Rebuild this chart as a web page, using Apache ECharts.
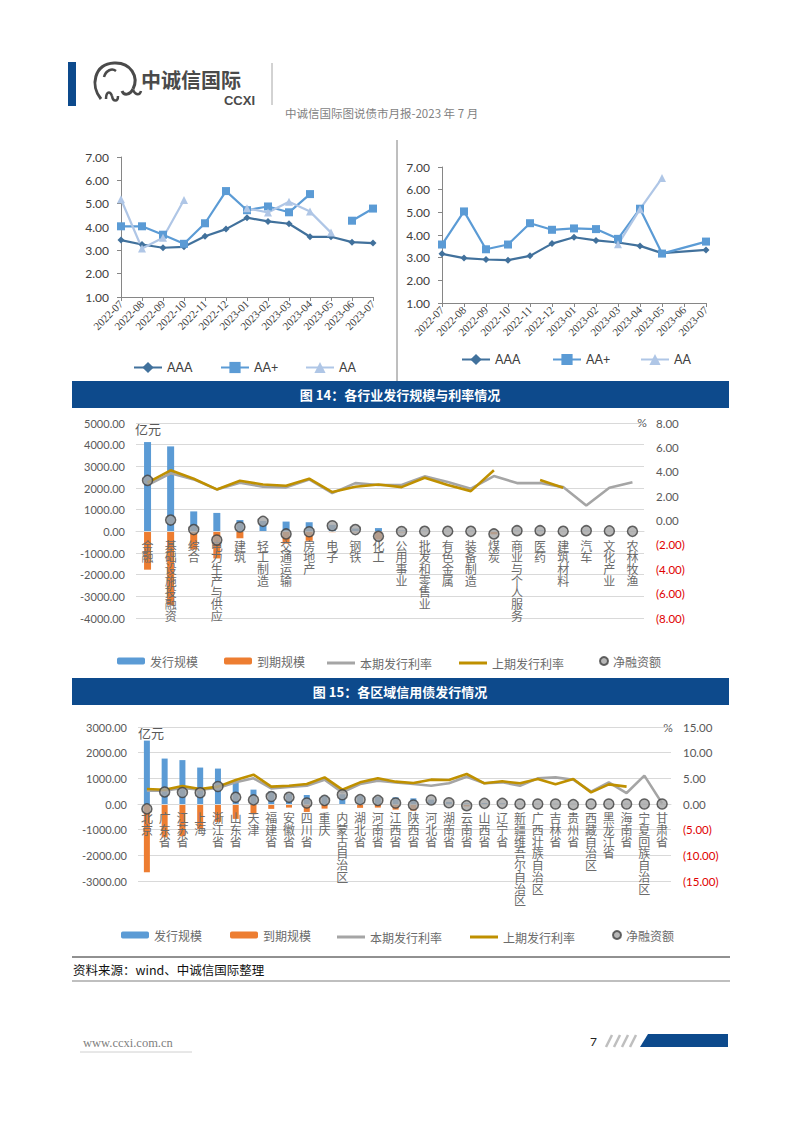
<!DOCTYPE html>
<html><head><meta charset="utf-8">
<script src="https://cdn.jsdelivr.net/npm/echarts@6/dist/echarts.min.js"></script>
<style>html,body{margin:0;padding:0;background:#fff}#c{width:802px;height:1133px}</style>
</head><body><div id="c"></div>
<script>
// ---------- data ----------
const months = ['2022-07','2022-08','2022-09','2022-10','2022-11','2022-12','2023-01','2023-02','2023-03','2023-04','2023-05','2023-06','2023-07'];
const leftAAA  = [3.44,3.25,3.11,3.15,3.60,3.91,4.40,4.24,4.14,3.58,3.58,3.35,3.31];
const leftAAp  = [4.03,4.03,3.67,3.28,4.16,5.54,4.72,4.88,4.63,5.41,null,4.27,4.79];
const leftAA   = [5.19,3.08,3.54,5.16,null,null,4.80,4.62,5.08,4.66,3.76,null,null];
const rightAAA = [3.17,2.98,2.92,2.89,3.08,3.62,3.90,3.76,3.67,3.52,3.20,null,3.34];
const rightAAp = [3.58,5.04,3.37,3.58,4.52,4.23,4.29,4.26,3.83,5.16,3.18,null,3.71];
const rightAA  = [null,null,null,null,null,null,null,null,3.59,5.14,6.51,null,null];

const industries = ['金融','基础设施投融资','综合','电力生产与供应','建筑','轻工制造','交通运输','房地产','电子','钢铁','化工','公用事业','批发和零售业','有色金属','装备制造','煤炭','商业与个人服务','医药','建筑材料','汽车','文化产业','农林牧渔'];
const indIssue   = [4120,3920,920,850,520,480,450,420,300,130,150,40,30,20,30,20,30,40,20,30,20,10];
const indMature  = [-1770,-3400,-840,-1250,-320,-20,-570,-440,-40,-50,-380,-50,-30,-20,-30,-140,0,-10,-20,0,0,-10];
const indRateCur = [2.91,3.87,3.37,2.55,3.10,2.77,2.72,3.37,2.25,3.07,2.91,2.91,3.62,3.16,2.61,3.65,3.07,3.07,2.74,1.23,2.69,3.13];
const indRatePrev= [3.10,4.12,3.43,2.55,3.26,2.96,2.85,3.43,2.33,2.77,2.96,2.74,3.51,2.91,2.41,4.12,null,3.32,2.69,null,null,null];
const indNet     = [2350,520,80,-400,200,460,-120,-20,260,80,-230,-10,0,0,0,-120,30,30,0,30,20,0];

const regions = ['北京','广东省','江苏省','上海','浙江省','山东省','天津','福建省','安徽省','四川省','重庆','内蒙古自治区','湖北省','河南省','江西省','陕西省','河北省','湖南省','云南省','山西省','辽宁省','新疆维吾尔自治区','广西壮族自治区','吉林省','贵州省','西藏自治区','黑龙江省','海南省','宁夏回族自治区','甘肃省'];
const regIssue   = [2470,1770,1710,1420,1380,840,560,480,400,350,320,380,320,280,260,220,170,80,30,40,30,10,10,10,10,5,10,10,5,5];
const regMature  = [-2660,-1300,-1260,-980,-700,-580,-400,-190,-140,-310,-180,-20,-150,-140,-220,-260,-15,-30,-95,-15,-5,-10,-10,-10,-35,-5,-10,-10,-5,-5];
const regRateCur = [2.60,2.60,3.12,2.79,3.12,4.22,5.00,3.05,3.31,3.57,4.74,2.27,3.90,4.55,4.22,3.90,3.57,4.03,5.32,4.03,4.22,3.57,5.00,5.19,4.74,2.40,4.22,2.14,5.52,0.13];
const regRatePrev= [2.92,2.79,3.50,2.92,3.38,4.68,5.71,3.38,3.57,3.90,5.19,2.79,4.22,5.00,4.35,4.09,4.74,4.68,5.84,4.03,4.42,4.03,4.87,3.83,4.87,2.27,3.83,3.38,null,null];
const regNet     = [-190,470,450,440,680,260,160,290,260,40,140,360,170,140,40,-40,155,50,-65,25,25,0,0,0,-25,0,0,0,0,0];

// ---------- styles ----------
const C_AAA='#41719C', C_AAP='#5B9BD5', C_AA='#AFC6E6';
const C_BLUE='#5B9BD5', C_ORANGE='#ED7D31', C_GRAY='#A5A5A5', C_GOLD='#BF9000';
const NAVY='#0D4A8C';
const CJK="'Noto Sans CJK SC'";
const NUM="Lato";

// grid geometry (page pixels)
const G14={left:136,top:423,width:508,height:195,min:-4000,max:5000};
const G15={left:138,top:727,width:533,height:154,min:-3000,max:3000};
function zeroOffset(g){return -g.height*(0-g.min)/(g.max-g.min);} // move category axis up to value 0

function ratingX(g){return {type:'category',gridIndex:g,data:months,boundaryGap:false,
  axisLine:{lineStyle:{color:'#868686'}},axisTick:{show:true,length:4,lineStyle:{color:'#868686'},interval:0},
  axisLabel:{rotate:45,interval:0,fontSize:11,fontFamily:'Liberation Serif',color:'#404040',margin:5}};}
function ratingY(g){return {type:'value',gridIndex:g,min:1,max:7,interval:1,
  axisLine:{show:true,lineStyle:{color:'#868686'}},axisTick:{show:true,length:4,lineStyle:{color:'#868686'}},splitLine:{show:false},
  axisLabel:{formatter:v=>v.toFixed(2),fontSize:12,fontFamily:NUM,color:'#404040',margin:12}};}
function vert(v){return v.split('').join('\n');}
function catX(g,data,geo){return {type:'category',gridIndex:g,data:data,z:3,position:'bottom',offset:zeroOffset(geo),
  axisLine:{show:true,onZero:false,lineStyle:{color:'#D9D9D9'}},axisTick:{show:false},
  axisLabel:{interval:0,formatter:vert,fontSize:12,lineHeight:11.7,fontFamily:CJK,color:'#6b6b6b',margin:8}};}
function amtY(g,geo,itv){return {type:'value',gridIndex:g,min:geo.min,max:geo.max,interval:itv,
  axisLine:{show:false},axisTick:{show:false},splitLine:{lineStyle:{color:'#D9D9D9'}},
  axisLabel:{formatter:v=>v.toFixed(2),fontSize:11,fontFamily:NUM,color:'#595959',margin:11}};}
function rateY(g,min,max,itv){return {type:'value',gridIndex:g,position:'right',min:min,max:max,interval:itv,
  axisLine:{show:false,onZero:false},axisTick:{show:false},splitLine:{show:false},
  axisLabel:{formatter:v=>v<0?'('+Math.abs(v).toFixed(2)+')':v.toFixed(2),
    color:(v)=>parseFloat(v)<0?'#E00000':'#595959',fontSize:11.5,fontFamily:NUM,margin:12}};}

function ratingSeries(xi,yi,aaa,aap,aa,connect){return [
  {name:'AAA',type:'line',xAxisIndex:xi,yAxisIndex:yi,data:aaa,connectNulls:connect,symbol:'diamond',symbolSize:7,
   lineStyle:{color:C_AAA,width:2.2},itemStyle:{color:C_AAA}},
  {name:'AA+',type:'line',xAxisIndex:xi,yAxisIndex:yi,data:aap,connectNulls:connect,symbol:'rect',symbolSize:8,
   lineStyle:{color:C_AAP,width:2.2},itemStyle:{color:C_AAP}},
  {name:'AA',type:'line',xAxisIndex:xi,yAxisIndex:yi,data:aa,connectNulls:false,symbol:'triangle',symbolSize:8,
   lineStyle:{color:C_AA,width:2.2},itemStyle:{color:C_AA}}];}
function flowSeries(xi,yl,yr,issue,mature,cur,prev,net,bw){return [
  {name:'发行规模',type:'bar',xAxisIndex:xi,yAxisIndex:yl,data:issue,barWidth:bw,barGap:'-100%',itemStyle:{color:C_BLUE},z:2},
  {name:'到期规模',type:'bar',xAxisIndex:xi,yAxisIndex:yl,data:mature,barWidth:bw,barGap:'-100%',itemStyle:{color:C_ORANGE},z:2},
  {name:'本期发行利率',type:'line',xAxisIndex:xi,yAxisIndex:yr,data:cur,symbol:'none',lineStyle:{color:C_GRAY,width:2.6},itemStyle:{color:C_GRAY},z:4},
  {name:'上期发行利率',type:'line',xAxisIndex:xi,yAxisIndex:yr,data:prev,symbol:'none',lineStyle:{color:C_GOLD,width:2.6},itemStyle:{color:C_GOLD},z:4},
  {name:'净融资额',type:'scatter',xAxisIndex:xi,yAxisIndex:yl,data:net,symbolSize:10,itemStyle:{color:C_GRAY,borderColor:'#404040',borderWidth:1.5},z:5}];}

function leg(name,left,top,opt){return Object.assign({data:[name],left:left,top:top,padding:0,itemWidth:28,itemHeight:14,
  selectedMode:false,textStyle:{fontSize:12,fontFamily:CJK,color:'#6b6b6b'}},opt||{});}
function lineLeg(name,left,top){return leg(name,left,top,{data:[{name:name,icon:'rect'}],itemHeight:3});}
const rectLeg={itemHeight:7};
const dotLeg={itemWidth:8,itemHeight:8};
const numLeg={textStyle:{fontSize:12.5,fontFamily:NUM,color:'#404040'}};

const legends=[
  leg('AAA',133,361,numLeg),leg('AA+',220,361,numLeg),leg('AA',305,361,numLeg),
  leg('AAA',461,353,numLeg),leg('AA+',552,353,numLeg),leg('AA',640,353,numLeg),
  leg('发行规模',117,655,rectLeg),leg('到期规模',224,655,rectLeg),lineLeg('本期发行利率',327,657),lineLeg('上期发行利率',459,657),leg('净融资额',599,655,dotLeg),
  leg('发行规模',121,929,rectLeg),leg('到期规模',230,929,rectLeg),lineLeg('本期发行利率',337,931),lineLeg('上期发行利率',470,931),leg('净融资额',612,929,dotLeg)
];

function txt(x,y,s,style){return {type:'text',x:x,y:y,silent:true,style:Object.assign({text:s,fill:'#595959',fontSize:13,fontFamily:CJK,verticalAlign:'middle',align:'left'},style||{})};}
function ln(x1,y1,x2,y2,color,w){return {type:'line',silent:true,shape:{x1:x1,y1:y1,x2:x2,y2:y2},style:{stroke:color,lineWidth:w||1}};}
function bz(x1,y1,c1x,c1y,c2x,c2y,x2,y2,w){return {type:'bezierCurve',silent:true,shape:{x1:x1,y1:y1,cpx1:c1x,cpy1:c1y,cpx2:c2x,cpy2:c2y,x2:x2,y2:y2},style:{stroke:'#4a4a4a',fill:null,lineWidth:w||3}};}

const graphics=[
  {type:'rect',shape:{x:68,y:62,width:8,height:44},style:{fill:NAVY},silent:true},
  bz(101,99,90,86,94,64,114,63),
  bz(114,63,131,62,139,77,133,89),
  bz(133,89,130,95,124,96,122,91),
  bz(104,77,106,70,112,68,116,71,2.5),
  bz(106,99,106,92,110,90,112,96,2.5),
  bz(112,96,113,102,118,102,118,96,2.5),
  bz(133,90,136,96,140,95,141,91,2.5),
  txt(141,79,'中诚信国际',{fontSize:20,fontWeight:'bold',fill:'#4a4a4a'}),
  txt(255,100,'CCXI',{fontSize:13,fontWeight:'bold',fill:'#4a4a4a',align:'right',fontFamily:'Liberation Sans'}),
  ln(272,63,272,105,'#a6a6a6',1),
  txt(285,113,'中诚信国际图说债市月报-2023 年 7 月',{fontSize:11.5,fill:'#7f7f7f'}),
  ln(397,140,397,381,'#7f7f7f',1),
  {type:'rect',shape:{x:72,y:381,width:657,height:27},style:{fill:NAVY},silent:true},
  txt(400,394.5,'图 14：各行业发行规模与利率情况',{fill:'#fff',fontSize:13,fontWeight:'bold',align:'center'}),
  txt(135,428,'亿元',{fontSize:13}),
  txt(642,422,'%',{fontSize:12,align:'center',fontFamily:NUM}),
  {type:'rect',shape:{x:72,y:678,width:657,height:27},style:{fill:NAVY},silent:true},
  txt(400,691.5,'图 15：各区域信用债发行情况',{fill:'#fff',fontSize:13,fontWeight:'bold',align:'center'}),
  txt(138,732,'亿元',{fontSize:13}),
  txt(668,727,'%',{fontSize:12,align:'center',fontFamily:NUM}),
  ln(72,957,730,957,'#222',1),
  txt(73,969,'资料来源：wind、中诚信国际整理',{fontSize:12.5,fill:'#111'}),
  ln(72,981,730,981,'#BFBFBF',2),
  txt(83,1043,'www.ccxi.com.cn',{fontSize:12.5,fill:'#7f7f7f',fontFamily:'Liberation Serif'}),
  ln(80,1052,192,1052,'#D0D0D0',1),
  txt(590,1041,'7',{fontSize:12,fill:'#222',fontFamily:NUM}),
  ln(606,1047,612,1035,'#BFBFBF',2.5),ln(614,1047,620,1035,'#BFBFBF',2.5),ln(622,1047,628,1035,'#BFBFBF',2.5),ln(630,1047,636,1035,'#BFBFBF',2.5),
  {type:'polygon',silent:true,shape:{points:[[648,1034],[728,1034],[728,1047],[640,1047]]},style:{fill:NAVY}}
];

const chart=echarts.init(document.getElementById('c'),null,{renderer:'svg'});
chart.setOption({
  backgroundColor:'#fff',
  animation:false,
  grid:[
    {left:121,top:157,width:252,height:140},
    {left:442,top:167,width:264,height:136},
    {left:G14.left,top:G14.top,width:G14.width,height:G14.height},
    {left:G15.left,top:G15.top,width:G15.width,height:G15.height}
  ],
  xAxis:[ratingX(0),ratingX(1),catX(2,industries,G14),catX(3,regions,G15)],
  yAxis:[ratingY(0),ratingY(1),amtY(2,G14,1000),rateY(2,-8,8,2),amtY(3,G15,1000),rateY(3,-15,15,5)],
  legend:legends,
  series:[].concat(
    ratingSeries(0,0,leftAAA,leftAAp,leftAA,false),
    ratingSeries(1,1,rightAAA,rightAAp,rightAA,true),
    flowSeries(2,2,3,indIssue,indMature,indRateCur,indRatePrev,indNet,7),
    flowSeries(3,4,5,regIssue,regMature,regRateCur,regRatePrev,regNet,6)
  ),
  graphic:graphics
});
</script></body></html>
